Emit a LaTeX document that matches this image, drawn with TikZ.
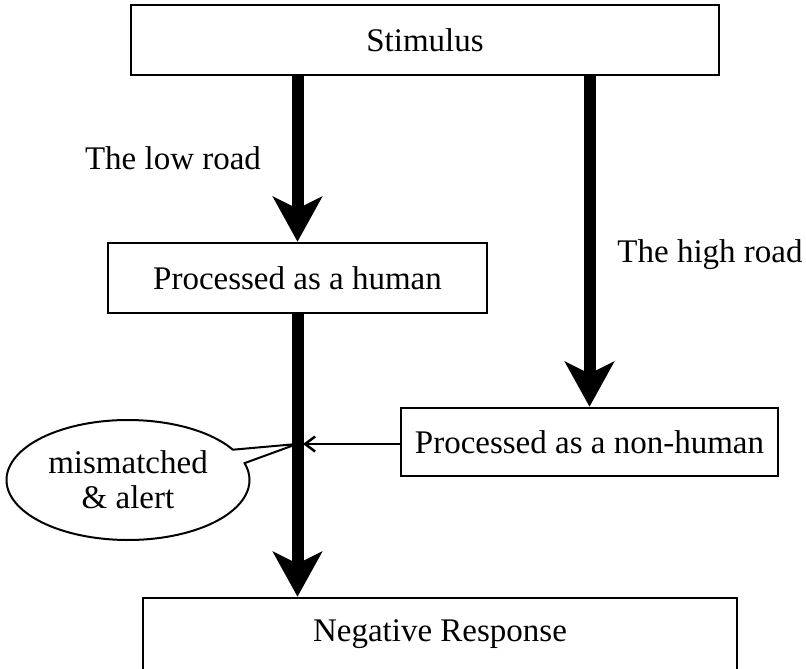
\documentclass[tikz,border=0pt]{standalone}
\usepackage{fontspec}
\setmainfont{Liberation Serif}
\usetikzlibrary{arrows.meta,shapes.callouts}
\begin{document}
\begin{tikzpicture}[x=1pt,y=-1pt,
  every node/.style={font=\fontsize{33}{35}\selectfont},
  box/.style={draw,line width=2.5pt,inner sep=0pt},
  road/.style={line width=12pt,-{Stealth[length=45pt,width=49pt,inset=12pt]}},
  thin/.style={line width=2pt,-{Straight Barb[length=10pt,width=15pt,line width=2.5pt]}}]
\useasboundingbox (0,0) rectangle (806,669);
\node[box,minimum width=588pt,minimum height=70pt] (stim) at (425,40) {Stimulus};
\node[box,minimum width=379pt,minimum height=70pt] (human) at (297.5,278) {Processed as a human};
\node[box,minimum width=377pt,minimum height=68pt] (nonhuman) at (589.5,442) {Processed as a non-human};
\node[box,minimum width=594pt,minimum height=84pt] (neg) at (440,640) {};
\node (negtext) at (440,634) {Negative Response};
\node (low) at (173,158) {The low road};
\node (high) at (710,255) {The high road};
\coordinate (hit) at (297,444);
% callout
\node[draw,line width=2pt,ellipse callout,minimum width=243pt,minimum height=120pt,inner sep=0pt,
  align=center,callout absolute pointer={(hit)},callout pointer arc=14] (alert) at (128,480) {mismatched\\\& alert};
\draw[road] (stim.south -| human.north) -- (human.north);
\draw[road] (stim.south -| nonhuman.north) -- (nonhuman.north);
\draw[road] (human.south) -- (neg.north -| human.south);
\draw[thin,shorten >=6pt] (nonhuman.west |- hit) -- (hit);
\end{tikzpicture}
\end{document}
